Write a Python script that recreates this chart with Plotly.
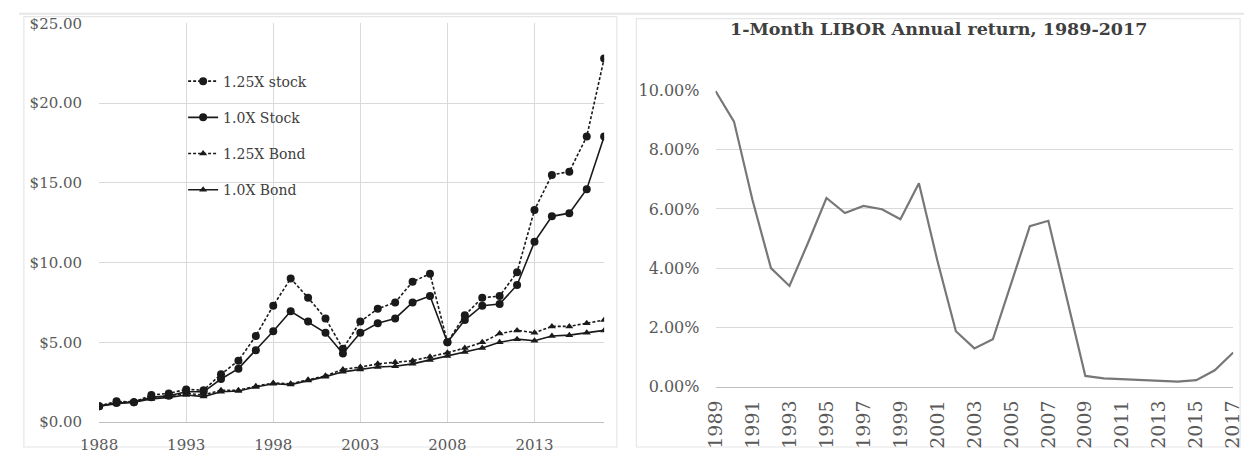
import plotly.graph_objects as go

# Growth of $1, 1988-2017
years = list(range(1988, 2018))
stock_125x = [1.00, 1.30, 1.25, 1.70, 1.80, 2.05, 2.00, 3.00, 3.85, 5.40,
              7.30, 9.00, 7.80, 6.50, 4.60, 6.30, 7.10, 7.50, 8.80, 9.30,
              5.00, 6.70, 7.80, 7.90, 9.40, 13.30, 15.50, 15.70, 17.90, 22.80]
stock_10x = [1.00, 1.20, 1.25, 1.55, 1.65, 1.90, 1.90, 2.70, 3.35, 4.50,
             5.70, 6.95, 6.30, 5.60, 4.30, 5.60, 6.20, 6.50, 7.50, 7.90,
             5.00, 6.40, 7.30, 7.40, 8.60, 11.30, 12.90, 13.10, 14.60, 17.90]
bond_125x = [1.00, 1.25, 1.30, 1.55, 1.65, 1.80, 1.70, 2.00, 2.00, 2.25,
             2.45, 2.40, 2.65, 2.90, 3.30, 3.45, 3.65, 3.75, 3.85, 4.10,
             4.35, 4.65, 5.00, 5.55, 5.75, 5.60, 6.00, 6.00, 6.20, 6.40]
bond_10x = [1.00, 1.15, 1.25, 1.45, 1.55, 1.70, 1.60, 1.90, 1.95, 2.20,
            2.40, 2.35, 2.60, 2.85, 3.15, 3.30, 3.45, 3.50, 3.65, 3.90,
            4.15, 4.40, 4.65, 5.00, 5.20, 5.10, 5.40, 5.45, 5.60, 5.75]

# 1-month LIBOR annual return (%)
libor_years = [str(y) for y in range(1989, 2018)]
libor_pct = [9.98, 8.95, 6.30, 4.00, 3.40, 4.85, 6.37, 5.86, 6.10, 5.99,
             5.65, 6.87, 4.25, 1.87, 1.29, 1.60, 3.50, 5.42, 5.60, 2.95,
             0.36, 0.28, 0.25, 0.24, 0.19, 0.17, 0.22, 0.55, 1.15]

left_ticks = [1988, 1993, 1998, 2003, 2008, 2013]
left_yticks = [0, 5, 10, 15, 20, 25]
left_ylabels = ["$%.2f" % v for v in left_yticks]
right_yticks = [0, 2, 4, 6, 8, 10]
right_ylabels = ["%.2f%%" % v for v in right_yticks]
right_xticks = libor_years[::2]

W, H = 1254, 457
FONT = "DejaVu Serif"
TICK = "#595959"
GRID = "#d9d9d9"
INK = "#1a1a1a"


def px(x):
    return x / W


def py(y):
    return 1 - y / H


fig = go.Figure()

series = [
    ("1.25X stock", stock_125x, "3px,2px", "circle", 8),
    ("1.0X Stock", stock_10x, "solid", "circle", 8),
    ("1.25X Bond", bond_125x, "3px,2px", "triangle-up", 7),
    ("1.0X Bond", bond_10x, "solid", "triangle-up", 7),
]
for i, (name, vals, dash, sym, size) in enumerate(series):
    fig.add_trace(go.Scatter(
        x=years, y=vals, name=name, mode="lines+markers",
        line=dict(color=INK, width=1.6, dash=dash),
        marker=dict(symbol=sym, size=size, color=INK),
        legendgroup=f"g{i}", xaxis="x", yaxis="y",
    ))

fig.add_trace(go.Scatter(
    x=libor_years, y=libor_pct, mode="lines", showlegend=False,
    line=dict(color="#777777", width=2.2),
    xaxis="x2", yaxis="y2",
))

fig.update_layout(
    width=W, height=H,
    margin=dict(l=0, r=0, t=0, b=0),
    paper_bgcolor="white", plot_bgcolor="rgba(0,0,0,0)",
    font=dict(family=FONT, color=TICK, size=14),
    xaxis=dict(
        domain=[px(82), px(599)], range=[1988, 2017],
        tickvals=left_ticks, ticktext=[str(t) for t in left_ticks],
        showgrid=False, zeroline=False,
        showline=True, linecolor="#bfbfbf", linewidth=1.3,
        ticks="", tickfont=dict(size=15, color=TICK), ticklabelstandoff=9,
        minor=dict(tickvals=left_ticks[1:], showgrid=True,
                   gridcolor=GRID, gridwidth=1, ticks=""),
    ),
    yaxis=dict(
        domain=[py(431), py(15)], range=[0, 25],
        tickvals=left_yticks, ticktext=left_ylabels,
        showgrid=False, zeroline=False, showline=False, ticks="",
        tickfont=dict(size=15, color=TICK), ticklabelstandoff=16,
        minor=dict(tickvals=left_yticks[1:-1], showgrid=True,
                   gridcolor=GRID, gridwidth=1, ticks=""),
    ),
    xaxis2=dict(
        domain=[px(713), px(1243)], type="category",
        anchor="y2", tickvals=right_xticks, tickangle=-90,
        showgrid=False, zeroline=False, showline=True,
        linecolor="#bfbfbf", linewidth=1.3, ticks="",
        tickfont=dict(size=19, color=TICK), ticklabelstandoff=5,
    ),
    yaxis2=dict(
        domain=[py(394), py(85)], range=[0, 10], anchor="x2",
        tickvals=right_yticks, ticktext=right_ylabels,
        showgrid=True, gridcolor=GRID, gridwidth=1,
        zeroline=False, showline=False, ticks="",
        tickfont=dict(size=16, color=TICK), ticklabelstandoff=15,
    ),
    legend=dict(
        x=px(168), y=py(59), xanchor="left", yanchor="top",
        bgcolor="rgba(0,0,0,0)", borderwidth=0,
        font=dict(family=FONT, size=14, color="#404040"),
        traceorder="grouped", tracegroupgap=15, itemwidth=30,
    ),
    annotations=[dict(
        text="<b>1-Month LIBOR Annual return, 1989-2017</b>",
        x=px(941), y=py(21), xref="paper", yref="paper",
        xanchor="center", yanchor="middle",
        showarrow=False, font=dict(family=FONT, size=17.5, color="#404040"),
    )],
    shapes=[
        # white panel behind the legend, covering the grid
        dict(type="rect", xref="paper", yref="paper", layer="between",
             x0=px(133), x1=px(338), y0=py(204), y1=py(56),
             fillcolor="white", line=dict(width=0)),
        # chart frames
        dict(type="line", xref="paper", yref="paper", layer="below",
             x0=0, x1=1, y0=py(5), y1=py(5),
             line=dict(color="#e6e6e6", width=2)),
        dict(type="rect", xref="paper", yref="paper", layer="below",
             x0=px(5), x1=px(612), y0=py(457), y1=py(8),
             line=dict(color="#e6e6e6", width=1.2)),
        dict(type="rect", xref="paper", yref="paper", layer="below",
             x0=px(632), x1=px(1250), y0=py(457), y1=py(10),
             line=dict(color="#e6e6e6", width=1.2)),
    ],
)

fig.write_html("out.html")
